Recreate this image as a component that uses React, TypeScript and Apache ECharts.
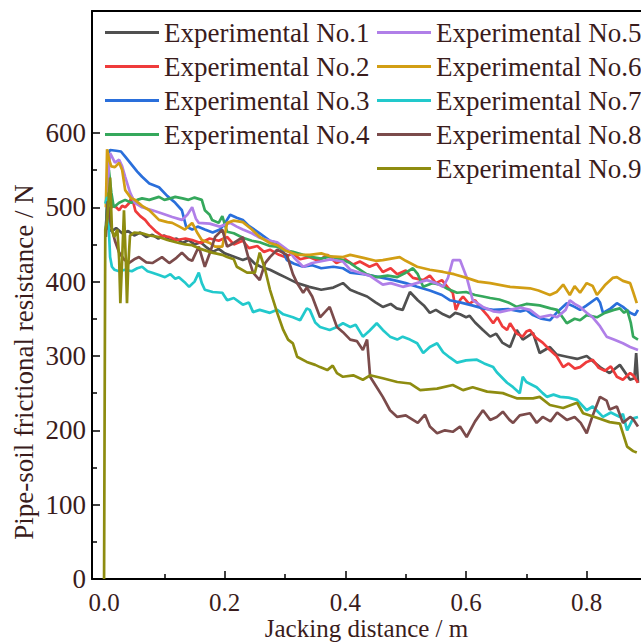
import React, { useEffect, useRef } from "react";
import * as echarts from "echarts";

const seriesNames = [
  "Experimental No.1",
  "Experimental No.2",
  "Experimental No.3",
  "Experimental No.4",
  "Experimental No.5",
  "Experimental No.6",
  "Experimental No.7",
  "Experimental No.8",
  "Experimental No.9",
];

const seriesColors = ["#505050", "#ef3b3b", "#2a6fdb", "#35a85c", "#b07fe8", "#d29e14", "#22c9cc", "#7b4b4b", "#8e8c10"];

const yTickValues = [0, 100, 200, 300, 400, 500, 600];
const yMinorValues = [50, 150, 250, 350, 450, 550];
const xTickValues = [0, 0.2, 0.4, 0.6, 0.8];
const xMinorValues = [0.1, 0.3, 0.5, 0.7];

const exp1 = [
  [0.003, 470], [0.005, 505], [0.008, 470], [0.013, 468], [0.02, 472], [0.03, 465], [0.04, 468], [0.05, 462],
  [0.06, 466], [0.07, 460], [0.08, 463], [0.09, 458], [0.1, 462], [0.11, 455], [0.12, 458], [0.13, 452],
  [0.14, 456], [0.15, 450], [0.16, 453], [0.17, 446], [0.18, 440], [0.19, 444], [0.2, 438], [0.21, 435],
  [0.22, 432], [0.23, 429], [0.24, 432], [0.25, 424], [0.26, 420], [0.275, 416], [0.29, 410], [0.3, 406],
  [0.31, 402], [0.32, 398], [0.34, 393], [0.36, 389], [0.38, 392], [0.396, 398], [0.408, 389], [0.42, 385],
  [0.436, 380], [0.45, 372], [0.462, 366], [0.475, 370], [0.485, 364], [0.495, 362], [0.507, 386], [0.52, 375],
  [0.53, 368], [0.54, 358], [0.55, 362], [0.562, 356], [0.573, 352], [0.582, 358], [0.59, 356], [0.6, 352],
  [0.606, 354], [0.615, 345], [0.628, 335], [0.64, 326], [0.65, 330], [0.66, 318], [0.673, 312], [0.684, 335],
  [0.694, 322], [0.711, 331], [0.722, 304], [0.739, 312], [0.75, 302], [0.767, 299], [0.784, 296], [0.8, 300],
  [0.822, 285], [0.838, 277], [0.855, 288], [0.872, 268], [0.879, 270], [0.882, 304], [0.885, 264],
];

const exp2 = [
  [0.005, 500], [0.01, 498], [0.015, 502], [0.02, 500], [0.025, 496], [0.03, 502], [0.035, 500], [0.041, 505],
  [0.046, 514], [0.052, 495], [0.06, 488], [0.068, 483], [0.075, 476], [0.085, 468], [0.095, 462], [0.108, 460],
  [0.12, 456], [0.135, 458], [0.146, 456], [0.16, 452], [0.175, 458], [0.19, 455], [0.204, 460], [0.215, 450],
  [0.23, 455], [0.24, 445], [0.254, 448], [0.265, 440], [0.275, 443], [0.29, 436], [0.3, 433], [0.313, 438],
  [0.325, 430], [0.34, 433], [0.355, 428], [0.37, 436], [0.385, 425], [0.4, 430], [0.413, 423], [0.424, 427],
  [0.44, 420], [0.452, 424], [0.462, 413], [0.475, 418], [0.486, 410], [0.5, 415], [0.512, 405], [0.529, 402],
  [0.54, 408], [0.55, 398], [0.56, 402], [0.57, 392], [0.578, 385], [0.583, 362], [0.59, 375], [0.595, 380],
  [0.605, 370], [0.615, 375], [0.623, 366], [0.635, 355], [0.645, 344], [0.652, 352], [0.66, 340], [0.668, 335],
  [0.673, 344], [0.684, 330], [0.694, 326], [0.7, 333], [0.706, 335], [0.715, 325], [0.727, 318], [0.739, 308],
  [0.75, 300], [0.761, 285], [0.77, 290], [0.78, 283], [0.789, 285], [0.8, 292], [0.81, 295], [0.82, 284],
  [0.83, 280], [0.84, 286], [0.85, 272], [0.86, 268], [0.872, 277], [0.877, 274], [0.885, 264],
];

const exp3 = [
  [0.005, 570], [0.01, 577], [0.02, 576], [0.028, 575], [0.035, 568], [0.045, 558], [0.055, 548], [0.063, 541],
  [0.075, 532], [0.091, 527], [0.105, 515], [0.118, 506], [0.129, 496], [0.136, 474], [0.146, 470], [0.155, 474],
  [0.167, 470], [0.18, 466], [0.192, 470], [0.2, 478], [0.209, 490], [0.22, 486], [0.23, 483], [0.24, 475],
  [0.258, 465], [0.275, 455], [0.287, 452], [0.297, 440], [0.303, 429], [0.315, 424], [0.33, 420], [0.345, 422],
  [0.36, 418], [0.38, 420], [0.396, 418], [0.408, 412], [0.43, 410], [0.462, 405], [0.48, 402], [0.5, 398],
  [0.519, 393], [0.54, 388], [0.56, 382], [0.573, 375], [0.59, 372], [0.61, 368], [0.628, 364], [0.645, 362],
  [0.67, 363], [0.69, 360], [0.7, 362], [0.711, 355], [0.725, 350], [0.739, 348], [0.75, 358], [0.767, 371],
  [0.78, 366], [0.789, 362], [0.8, 368], [0.817, 378], [0.822, 372], [0.827, 358], [0.84, 364], [0.85, 371],
  [0.86, 366], [0.872, 358], [0.88, 355], [0.885, 362],
];

const exp4 = [
  [0.003, 470], [0.008, 550], [0.012, 520], [0.016, 500], [0.025, 506], [0.035, 510], [0.045, 506], [0.055, 510],
  [0.063, 512], [0.075, 510], [0.091, 514], [0.1, 510], [0.11, 512], [0.118, 514], [0.13, 512], [0.14, 510],
  [0.15, 513], [0.162, 510], [0.167, 496], [0.175, 490], [0.179, 483], [0.19, 479], [0.196, 488], [0.204, 467],
  [0.215, 465], [0.23, 459], [0.245, 455], [0.258, 453], [0.275, 448], [0.287, 447], [0.3, 442], [0.313, 440],
  [0.33, 436], [0.345, 433], [0.36, 431], [0.375, 434], [0.396, 429], [0.408, 425], [0.42, 418], [0.435, 410],
  [0.452, 406], [0.47, 408], [0.486, 406], [0.5, 412], [0.512, 418], [0.52, 410], [0.529, 393], [0.545, 398],
  [0.557, 396], [0.57, 390], [0.585, 385], [0.6, 386], [0.615, 382], [0.628, 380], [0.64, 378], [0.655, 376],
  [0.67, 372], [0.684, 366], [0.7, 370], [0.722, 368], [0.74, 364], [0.751, 362], [0.76, 352], [0.767, 344],
  [0.78, 350], [0.789, 348], [0.8, 355], [0.817, 352], [0.83, 358], [0.845, 362], [0.855, 364], [0.862, 358],
  [0.867, 362], [0.873, 345], [0.877, 326], [0.885, 322],
];

const exp5 = [
  [0.005, 520], [0.01, 573], [0.018, 560], [0.025, 564], [0.03, 555], [0.035, 541], [0.043, 520], [0.051, 506],
  [0.063, 500], [0.08, 496], [0.095, 492], [0.113, 487], [0.129, 483], [0.138, 490], [0.146, 500], [0.152, 485],
  [0.157, 479], [0.175, 478], [0.192, 474], [0.209, 479], [0.22, 474], [0.23, 470], [0.245, 465], [0.258, 459],
  [0.275, 455], [0.287, 453], [0.3, 445], [0.308, 440], [0.315, 432], [0.33, 420], [0.345, 425], [0.358, 427],
  [0.375, 430], [0.396, 427], [0.408, 416], [0.42, 413], [0.44, 408], [0.462, 396], [0.475, 398], [0.495, 393],
  [0.51, 396], [0.535, 402], [0.55, 398], [0.562, 393], [0.57, 405], [0.578, 429], [0.59, 429], [0.601, 406],
  [0.611, 375], [0.628, 366], [0.645, 360], [0.656, 359], [0.673, 362], [0.69, 365], [0.706, 362], [0.722, 352],
  [0.74, 355], [0.751, 352], [0.765, 362], [0.772, 375], [0.78, 370], [0.789, 366], [0.8, 358], [0.81, 352],
  [0.822, 340], [0.833, 326], [0.845, 322], [0.86, 317], [0.872, 312], [0.885, 308],
];

const exp6 = [
  [0.003, 500], [0.005, 578], [0.008, 565], [0.012, 555], [0.018, 554], [0.025, 560], [0.03, 550], [0.035, 523],
  [0.045, 512], [0.051, 510], [0.063, 502], [0.075, 496], [0.091, 483], [0.105, 480], [0.113, 479], [0.125, 474],
  [0.134, 470], [0.146, 479], [0.155, 465], [0.162, 456], [0.175, 452], [0.184, 447], [0.196, 447], [0.204, 479],
  [0.215, 482], [0.23, 480], [0.245, 470], [0.258, 460], [0.275, 452], [0.287, 449], [0.3, 442], [0.32, 436],
  [0.341, 436], [0.36, 438], [0.375, 434], [0.396, 433], [0.408, 436], [0.43, 432], [0.45, 428], [0.462, 429],
  [0.49, 433], [0.5, 428], [0.519, 420], [0.54, 416], [0.562, 413], [0.58, 410], [0.601, 405], [0.62, 400],
  [0.64, 398], [0.673, 393], [0.706, 391], [0.72, 388], [0.739, 382], [0.75, 386], [0.761, 396], [0.772, 382],
  [0.78, 394], [0.789, 385], [0.8, 398], [0.81, 394], [0.817, 382], [0.83, 395], [0.843, 405], [0.85, 406],
  [0.86, 401], [0.872, 398], [0.877, 386], [0.883, 371],
];

const exp7 = [
  [0.002, 505], [0.005, 514], [0.008, 470], [0.01, 433], [0.013, 420], [0.017, 416], [0.025, 414], [0.035, 416],
  [0.046, 414], [0.055, 418], [0.063, 420], [0.072, 414], [0.08, 412], [0.091, 409], [0.101, 406], [0.11, 410],
  [0.118, 404], [0.124, 406], [0.135, 398], [0.141, 393], [0.15, 400], [0.157, 412], [0.162, 398], [0.167, 389],
  [0.18, 386], [0.196, 385], [0.204, 375], [0.215, 378], [0.23, 369], [0.24, 372], [0.247, 359], [0.258, 362],
  [0.275, 358], [0.287, 362], [0.297, 356], [0.313, 352], [0.325, 348], [0.336, 364], [0.341, 362], [0.35, 345],
  [0.358, 339], [0.374, 335], [0.386, 339], [0.396, 344], [0.408, 339], [0.417, 342], [0.429, 326], [0.44, 334],
  [0.452, 344], [0.462, 335], [0.474, 326], [0.486, 322], [0.495, 326], [0.507, 322], [0.519, 317], [0.529, 304],
  [0.54, 312], [0.552, 317], [0.562, 305], [0.573, 298], [0.585, 291], [0.6, 294], [0.618, 295], [0.63, 290],
  [0.645, 285], [0.651, 278], [0.668, 264], [0.678, 258], [0.689, 250], [0.694, 272], [0.7, 265], [0.717, 258],
  [0.727, 250], [0.734, 245], [0.745, 248], [0.756, 245], [0.77, 244], [0.784, 241], [0.8, 227], [0.81, 232],
  [0.827, 218], [0.84, 224], [0.855, 218], [0.86, 222], [0.867, 200], [0.872, 208], [0.877, 216], [0.885, 218],
];

const exp8 = [
  [0.003, 460], [0.006, 508], [0.01, 483], [0.013, 470], [0.018, 455], [0.025, 439], [0.033, 430], [0.041, 425],
  [0.05, 430], [0.058, 433], [0.07, 426], [0.08, 425], [0.09, 430], [0.096, 433], [0.108, 425], [0.12, 432],
  [0.129, 439], [0.14, 430], [0.146, 428], [0.157, 447], [0.167, 420], [0.176, 440], [0.184, 460], [0.196, 470],
  [0.204, 447], [0.215, 452], [0.23, 460], [0.24, 430], [0.247, 412], [0.258, 402], [0.267, 425], [0.275, 433],
  [0.287, 443], [0.303, 436], [0.313, 410], [0.32, 398], [0.33, 385], [0.336, 392], [0.345, 380], [0.358, 352],
  [0.374, 366], [0.386, 339], [0.396, 332], [0.408, 322], [0.419, 320], [0.429, 308], [0.436, 322], [0.441, 272],
  [0.452, 258], [0.462, 245], [0.474, 227], [0.486, 218], [0.5, 220], [0.52, 210], [0.532, 221], [0.54, 205],
  [0.552, 196], [0.565, 200], [0.578, 198], [0.59, 205], [0.601, 191], [0.615, 212], [0.628, 227], [0.64, 214],
  [0.651, 218], [0.661, 225], [0.672, 214], [0.678, 210], [0.689, 220], [0.706, 223], [0.717, 210], [0.727, 218],
  [0.74, 212], [0.751, 224], [0.767, 214], [0.78, 218], [0.79, 210], [0.8, 196], [0.81, 220], [0.822, 245],
  [0.833, 240], [0.838, 228], [0.85, 232], [0.86, 210], [0.872, 218], [0.877, 215], [0.885, 205],
];

const exp9 = [
  [0, 0], [0.002, 470], [0.005, 480], [0.01, 540], [0.013, 470], [0.017, 460], [0.022, 470], [0.025, 430],
  [0.027, 371], [0.03, 430], [0.033, 496], [0.036, 430], [0.038, 371], [0.04, 420], [0.043, 462], [0.05, 466],
  [0.063, 465], [0.075, 462], [0.091, 460], [0.105, 456], [0.124, 452], [0.135, 450], [0.146, 449], [0.16, 444],
  [0.179, 439], [0.196, 436], [0.204, 433], [0.215, 430], [0.22, 420], [0.237, 412], [0.25, 412], [0.258, 439],
  [0.267, 416], [0.275, 389], [0.287, 358], [0.297, 335], [0.305, 322], [0.313, 317], [0.32, 299], [0.336, 292],
  [0.35, 288], [0.358, 285], [0.37, 281], [0.379, 287], [0.386, 277], [0.396, 272], [0.413, 274], [0.429, 268],
  [0.441, 274], [0.462, 270], [0.486, 265], [0.507, 263], [0.524, 254], [0.552, 256], [0.578, 261], [0.595, 254],
  [0.611, 258], [0.635, 252], [0.661, 250], [0.684, 243], [0.711, 243], [0.722, 245], [0.739, 234], [0.761, 230],
  [0.784, 237], [0.794, 223], [0.817, 217], [0.838, 211], [0.855, 209], [0.867, 178], [0.877, 172], [0.883, 170],
];

const seriesData = [exp1, exp2, exp3, exp4, exp5, exp6, exp7, exp8, exp9];

const FONT = '"Liberation Serif", "Times New Roman", serif';
const TEXT_COLOR = "#3a1c1c";

export default function App() {
  const ref = useRef<HTMLDivElement>(null);

  useEffect(() => {
    if (!ref.current) return;
    const chart = echarts.init(ref.current, undefined, { renderer: "svg" });

    const legendCommon = {
      orient: "vertical" as const,
      top: 19,
      padding: 0,
      icon: "rect",
      itemWidth: 54,
      itemHeight: 3,
      itemGap: 7,
      textStyle: { fontFamily: FONT, fontSize: 27, color: TEXT_COLOR, lineHeight: 27 },
    };

    const option: any = {
      animation: false,
      backgroundColor: "#ffffff",
      grid: { left: 92, right: 0, top: 11, bottom: 63, containLabel: false, outerBoundsMode: "none" },
      legend: [
        { ...legendCommon, left: 105, data: seriesNames.slice(0, 4) },
        { ...legendCommon, left: 377, data: seriesNames.slice(4) },
      ],
      xAxis: [
        {
          type: "value",
          min: -0.02,
          max: 0.89,
          position: "bottom",
          name: "Jacking distance / m",
          nameLocation: "middle",
          nameGap: 37,
          nameMoveOverlap: false,
          nameTextStyle: { fontFamily: FONT, fontSize: 25, color: TEXT_COLOR, lineHeight: 24 },
          axisLine: { show: true, onZero: false, lineStyle: { color: "#000", width: 2 } },
          axisTick: { show: true, inside: true, length: 8, customValues: xTickValues, lineStyle: { color: "#000", width: 1.5 } },
          axisLabel: {
            customValues: xTickValues,
            margin: 11,
            fontFamily: FONT,
            fontSize: 25,
            lineHeight: 24,
            color: TEXT_COLOR,
            formatter: (v: number) => v.toFixed(1),
          },
          splitLine: { show: false },
        },
        {
          type: "value",
          min: -0.02,
          max: 0.89,
          position: "bottom",
          axisLine: { show: false, onZero: false },
          axisTick: { show: true, inside: true, length: 5, customValues: xMinorValues, lineStyle: { color: "#000", width: 1.5 } },
          axisLabel: { show: false },
          splitLine: { show: false },
        },
        {
          type: "value",
          min: -0.02,
          max: 0.89,
          position: "top",
          axisLine: { show: true, onZero: false, lineStyle: { color: "#000", width: 2 } },
          axisTick: { show: false },
          axisLabel: { show: false },
          splitLine: { show: false },
        },
      ],
      yAxis: [
        {
          type: "value",
          min: 0,
          max: 764,
          position: "left",
          axisLine: { show: true, onZero: false, lineStyle: { color: "#000", width: 2 } },
          axisTick: { show: true, inside: true, length: 8, customValues: yTickValues, lineStyle: { color: "#000", width: 1.5 } },
          axisLabel: { customValues: yTickValues, margin: 6, fontFamily: FONT, fontSize: 27, color: TEXT_COLOR },
          splitLine: { show: false },
        },
        {
          type: "value",
          min: 0,
          max: 764,
          position: "left",
          axisLine: { show: false, onZero: false },
          axisTick: { show: true, inside: true, length: 5, customValues: yMinorValues, lineStyle: { color: "#000", width: 1.5 } },
          axisLabel: { show: false },
          splitLine: { show: false },
        },
      ],
      graphic: [
        {
          type: "text",
          x: 24,
          y: 362,
          rotation: Math.PI / 2,
          style: {
            text: "Pipe-soil frictional resistance / N",
            fontFamily: FONT,
            fontSize: 27,
            fill: TEXT_COLOR,
            align: "center",
            verticalAlign: "middle",
          },
        },
      ],
      series: seriesNames.map((name, i) => ({
        name,
        type: "line",
        data: seriesData[i],
        symbol: "none",
        showSymbol: false,
        xAxisIndex: 0,
        yAxisIndex: 0,
        clip: true,
        color: seriesColors[i],
        lineStyle: { width: 2.7, color: seriesColors[i] },
      })),
    };

    chart.setOption(option);
    return () => chart.dispose();
  }, []);

  return (
    <div
      ref={ref}
      style={{ position: "absolute", left: 0, top: 0, width: 641, height: 642, background: "#fff" }}
    />
  );
}
